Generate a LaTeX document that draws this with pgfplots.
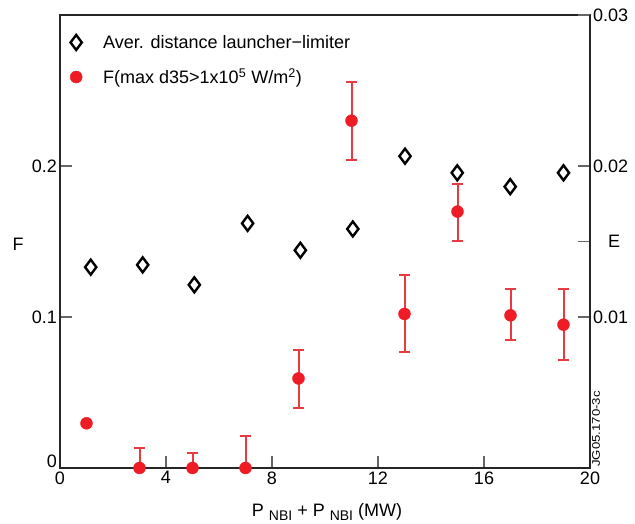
\documentclass[border=0pt]{standalone}
\usepackage{pgfplots}
\pgfplotsset{compat=1.18}
\usepackage{pgfplotstable}
\usepackage{fontspec}
\setmainfont{Liberation Sans}
\definecolor{fred}{HTML}{EE1C25}
\definecolor{ebar}{HTML}{E83A40}
\newcommand\fs{\fontsize{18}{21}\selectfont}

% F values with asymmetric errors
\pgfplotstableread{
x   f      ep     em
3   0      0.0133 0
5   0      0.0102 0
7   0      0.0210 0
9   0.0593 0.0191 0.0196
11  0.2300 0.0258 0.0259
13  0.1020 0.0257 0.0251
15  0.1698 0.0184 0.0196
17  0.1011 0.0174 0.0163
19  0.0949 0.0236 0.0233
}\fdata

% average distance launcher-limiter (right axis)
\pgfplotstableread{
x     e
1.16  0.01330
3.12  0.01345
5.07  0.01213
7.08  0.01620
9.07  0.01442
11.05 0.01583
13.02 0.02065
14.99 0.01955
16.99 0.01863
19.0  0.01955
}\edata

\begin{document}
\begin{tikzpicture}
\pgfplotsset{
  every axis/.append style={
    scale only axis, width=530pt, height=453pt,
    xmin=0, xmax=20,
    tick align=inside, major tick length=12pt,
    tick style={black!60, line width=1.3pt},
    axis line style={black!85, line width=1.1pt},
    ticklabel style={font=\fs},
    scaled ticks=false,
  },
}
\begin{axis}[
  name=main, at={(0,0)}, anchor=south west,
  ymin=0, ymax=0.3,
  xtick={0,4,8,12,16,20}, xticklabels={0,4,8,12,16,20}, xtick pos=bottom,
  ytick={0,0.1,0.2}, yticklabels={\smash{0},0.1,0.2}, ytick pos=left,
  yticklabel style={inner xsep=3pt},
  clip=false,
]
\addplot[only marks, mark=*, mark size=6pt, fred, mark options={draw=none, fill=fred}]
  coordinates {(1,0.0296)};
\addplot[only marks, mark=*, mark size=6pt, fred, mark options={draw=none, fill=fred},
  error bars/.cd, y dir=both, y explicit,
  error bar style={ebar, line width=2pt},
  error mark options={ebar, line width=2pt, mark size=5.5pt, rotate=90}]
  table[x=x, y=f, y error plus=ep, y error minus=em] {\fdata};
\end{axis}
\begin{axis}[
  at={(0,0)}, anchor=south west,
  ymin=0, ymax=0.03,
  axis x line=none, axis y line*=right,
  ytick={0.01,0.015,0.02,0.03}, yticklabels={0.01,,0.02,0.03},
  yticklabel style={inner xsep=3pt},
  clip=false,
  legend style={draw=none, fill=none, at={(0,1)}, anchor=north west,
    font=\fs, row sep=15pt, xshift=7pt, yshift=-16pt,
    /tikz/every odd column/.append style={column sep=19pt}},
  legend cell align=left,
]
\addplot[only marks, mark=diamond, mark size=7.5pt, black, line width=2.4pt]
  table[x=x, y=e] {\edata};
\addlegendentry{Aver. distance launcher−limiter}
\addlegendimage{only marks, mark=*, mark size=6pt, fred, mark options={draw=none, fill=fred}}
\addlegendentry{F(max d35>1x10\textsuperscript{5} W/m\textsuperscript{2})}
\end{axis}
\node[font=\fs] at ([xshift=-42pt,yshift=-3pt]main.west) {F};
\node[font=\fs] at ([xshift=24pt]main.east) {E};
\node[font=\fs, anchor=base] at ([xshift=2pt,yshift=-49pt]main.south)
  {P\hspace{5pt}\raisebox{-4pt}{\fontsize{14}{14}\selectfont NBI} + P\hspace{5pt}\raisebox{-4pt}{\fontsize{14}{14}\selectfont NBI} (MW)};
\node[font=\fontsize{11}{11}\selectfont, rotate=90, anchor=north west, inner sep=0pt, xscale=1.2]
  at ([xshift=2pt,yshift=1pt]main.south east) {JG05.170-3c};
\pgfresetboundingbox
\path[use as bounding box] ([xshift=-60pt,yshift=-56pt]main.south west) rectangle ([xshift=45pt,yshift=15pt]main.north east);
\end{tikzpicture}
\end{document}
